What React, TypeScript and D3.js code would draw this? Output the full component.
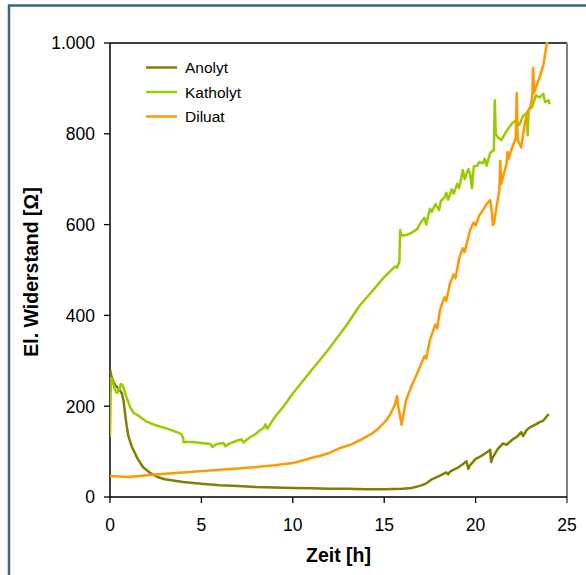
import React from "react";
import * as d3 from "d3";

type Pt = [number, number];

const seriesNames = ["Anolyt", "Katholyt", "Diluat"];
const seriesColors = ["#808000", "#99cc00", "#ff9900"];

const anolyt: Pt[] = [
  [0, 280], [0.1, 262], [0.3, 245], [0.5, 238], [0.65, 228], [0.75, 210], [0.82, 185], [0.9, 160],
  [1.0, 135], [1.2, 110], [1.5, 85], [1.8, 66], [2.2, 53], [2.6, 44], [3.0, 39], [4, 33], [5, 29],
  [6, 26], [7, 24], [8, 22], [9, 21], [10, 20], [11, 19], [12, 18], [13, 18], [14, 17], [15, 17],
  [16, 18], [16.5, 20], [17, 25], [17.3, 30], [17.6, 39], [18, 46], [18.4, 54], [18.5, 50], [18.6, 56],
  [19, 64], [19.3, 72], [19.5, 79], [19.6, 62], [19.7, 70], [20, 84], [20.3, 90], [20.6, 98],
  [20.8, 104], [20.85, 77], [20.95, 88], [21.2, 105], [21.5, 118], [21.7, 115], [22, 126],
  [22.3, 134], [22.5, 143], [22.6, 134], [22.8, 148], [23, 154], [23.3, 160], [23.5, 165],
  [23.7, 168], [24, 183],
];

const katholyt: Pt[] = [
  [0, 132], [0.05, 262], [0.15, 255], [0.25, 238], [0.38, 229], [0.5, 238], [0.6, 249], [0.7, 245],
  [0.9, 220], [1.1, 198], [1.3, 185], [1.6, 178], [2.0, 166], [2.5, 158], [3.1, 151], [3.5, 145],
  [3.9, 139], [4.0, 130], [4.02, 121], [4.5, 121], [5, 119], [5.5, 117], [5.6, 110], [5.8, 116],
  [6.2, 119], [6.3, 112], [6.5, 117], [7, 125], [7.2, 127], [7.3, 120], [7.6, 130], [8, 140],
  [8.2, 147], [8.4, 152], [8.5, 160], [8.6, 150], [9, 175], [9.5, 200], [10, 228], [10.8, 268],
  [11.85, 320], [12.95, 379], [13.68, 423], [14.4, 456], [14.95, 482], [15.5, 504], [15.6, 508],
  [15.7, 505], [15.83, 518], [15.87, 588], [15.95, 576], [16.2, 577], [16.5, 582], [16.8, 590],
  [17, 605], [17.2, 615], [17.3, 600], [17.5, 635], [17.6, 628], [17.8, 645], [18, 632],
  [18.1, 652], [18.3, 660], [18.4, 670], [18.5, 655], [18.7, 678], [18.8, 668], [19, 690],
  [19.1, 680], [19.2, 700], [19.3, 720], [19.4, 700], [19.6, 722], [19.7, 712], [19.8, 680],
  [19.9, 728], [20.1, 730], [20.2, 738], [20.4, 735], [20.5, 745], [20.6, 730], [20.8, 758],
  [21.0, 764], [21.05, 874], [21.1, 800], [21.2, 793], [21.4, 786], [21.6, 800], [21.8, 812],
  [22, 823], [22.2, 830], [22.4, 820], [22.6, 840], [22.8, 846], [22.85, 797], [22.9, 852],
  [23.1, 860], [23.3, 885], [23.5, 880], [23.7, 888], [23.8, 870], [24, 874], [24.05, 865],
];

const diluat: Pt[] = [
  [0, 46], [1, 44], [2, 48], [3, 51], [4, 54], [5, 57], [6, 60], [7, 63], [8, 66], [9, 70], [10, 75],
  [10.5, 80], [11, 86], [11.5, 91], [12, 97], [12.6, 108], [13.2, 116], [13.7, 126], [14.3, 139],
  [14.6, 148], [15.1, 168], [15.3, 180], [15.5, 196], [15.6, 205], [15.7, 222], [15.75, 205],
  [15.95, 159], [16.2, 214], [16.5, 245], [16.8, 272], [17.2, 310], [17.3, 305], [17.5, 346],
  [17.8, 380], [17.9, 372], [18.05, 412], [18.3, 440], [18.4, 432], [18.6, 471], [18.8, 490],
  [18.9, 482], [19.1, 526], [19.3, 548], [19.4, 540], [19.7, 588], [19.9, 605], [20.0, 598],
  [20.2, 620], [20.4, 632], [20.6, 645], [20.8, 654], [20.85, 640], [20.95, 599], [21.0, 603],
  [21.3, 676], [21.35, 740], [21.4, 690], [21.7, 735], [21.75, 760], [21.8, 745], [22.0, 770],
  [22.2, 790], [22.25, 890], [22.3, 786], [22.5, 770], [22.6, 800], [22.8, 846], [23.0, 860],
  [23.1, 881], [23.15, 945], [23.2, 890], [23.5, 925], [23.7, 950], [23.9, 1000], [24, 1010],
];

const xTicks = [0, 5, 10, 15, 20, 25];
const yTicks = [0, 200, 400, 600, 800, 1000];
const yTickLabels = ["0", "200", "400", "600", "800", "1.000"];
const xTitle = "Zeit [h]";
const yTitle = "El. Widerstand [Ω]";

const W = 586;
const H = 575;
const L = 110;
const R = 567;
const T = 43;
const B = 497;
const FONT = "'Liberation Sans', Arial, sans-serif";

export default function App() {
  const x = d3.scaleLinear().domain([0, 25]).range([L, R]);
  const y = d3.scaleLinear().domain([0, 1000]).range([B, T]);
  const line = d3
    .line<Pt>()
    .x((d) => x(d[0]))
    .y((d) => y(d[1]));
  const data = [anolyt, katholyt, diluat];

  return (
    <div style={{ position: "absolute", left: 0, top: 0 }}>
      <svg width={W} height={H} style={{ display: "block" }}>
        <rect x={0} y={0} width={W} height={H} fill="#ffffff" />
        <rect x={9} y={5.5} width={W + 20} height={H + 20} fill="none" stroke="#3f6578" strokeWidth={2.5} />
        <defs>
          <clipPath id="plot">
            <rect x={L} y={T - 1} width={R - L} height={B - T + 1} />
          </clipPath>
        </defs>
        <line x1={L} y1={T} x2={R} y2={T} stroke="#000" strokeWidth={1.3} />
        <line x1={R} y1={T} x2={R} y2={B + 6} stroke="#808080" strokeWidth={2} />
        <line x1={L} y1={T} x2={L} y2={B} stroke="#000" strokeWidth={1.5} />
        <line x1={L} y1={B} x2={R} y2={B} stroke="#000" strokeWidth={1.5} />
        {yTicks.map((t, i) => (
          <g key={"y" + t}>
            <line x1={L - 6} x2={L} y1={y(t)} y2={y(t)} stroke="#000" strokeWidth={1.3} />
            <text x={95} y={y(t)} dy="0.36em" textAnchor="end" fontFamily={FONT} fontSize={17.5} fill="#000">
              {yTickLabels[i]}
            </text>
          </g>
        ))}
        {xTicks.map((t) => (
          <g key={"x" + t}>
            {t !== 25 && <line x1={x(t)} x2={x(t)} y1={B} y2={B + 6} stroke="#000" strokeWidth={1.3} />}
            <text x={x(t)} y={531} textAnchor="middle" fontFamily={FONT} fontSize={17.5} fill="#000">
              {t}
            </text>
          </g>
        ))}
        <text x={(L + R) / 2} y={562} textAnchor="middle" fontFamily={FONT} fontSize={19.5} fontWeight="bold">
          {xTitle}
        </text>
        <text
          transform={`translate(38,${(T + B) / 2 + 2}) rotate(-90)`}
          textAnchor="middle"
          fontFamily={FONT}
          fontSize={19.5}
          fontWeight="bold"
        >
          {yTitle}
        </text>
        <g clipPath="url(#plot)">
          {data.map((d, i) => (
            <path
              key={seriesNames[i]}
              d={line(d) || ""}
              fill="none"
              stroke={seriesColors[i]}
              strokeWidth={2.5}
              strokeLinejoin="round"
            />
          ))}
        </g>
        {seriesNames.map((n, i) => (
          <g key={"lg" + n}>
            <line x1={146} x2={177} y1={67.5 + i * 24.5} y2={67.5 + i * 24.5} stroke={seriesColors[i]} strokeWidth={2.5} />
            <text x={185} y={67.5 + i * 24.5} dy="0.36em" fontFamily={FONT} fontSize={15.5} fill="#000">
              {n}
            </text>
          </g>
        ))}
      </svg>
    </div>
  );
}
